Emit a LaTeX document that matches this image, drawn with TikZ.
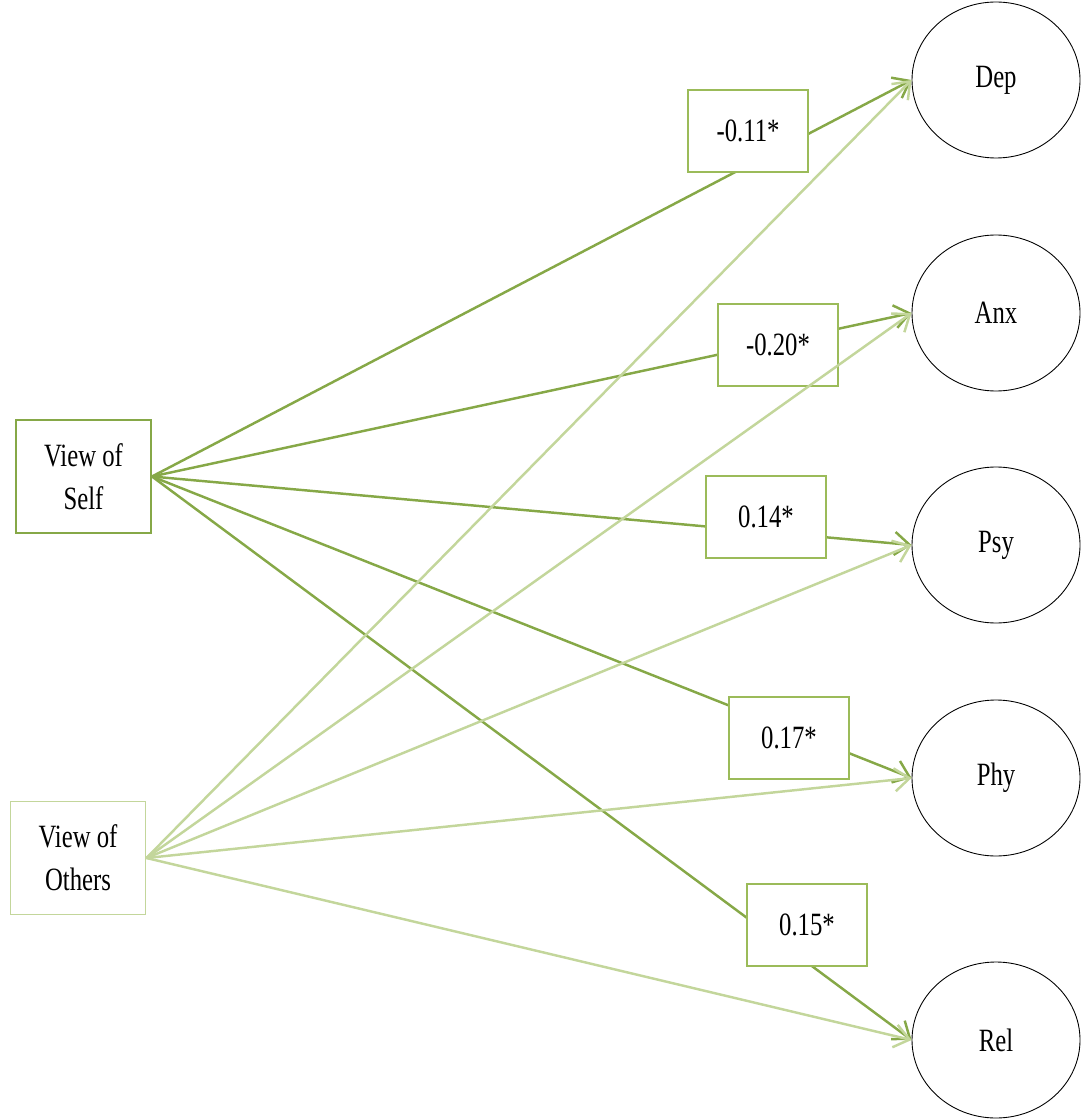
\documentclass[tikz,border=0pt]{standalone}
\usepackage{graphicx}
\usepackage{fontspec}
\setmainfont{Liberation Serif}
\usetikzlibrary{shapes.geometric,arrows.meta,positioning}
\definecolor{selfgreen}{HTML}{86A847}
\definecolor{boxgreen}{HTML}{9BBB59}
\definecolor{othergreen}{HTML}{C3D69B}
\newcommand{\tall}[1]{\scalebox{0.76}[1]{#1}}

\begin{document}
\begin{tikzpicture}[
  every node/.style={font=\fontsize{18.5}{24.5}\selectfont},
  srcbox/.style={draw, line width=1.1pt, minimum width=2.7cm, minimum height=2.26cm, align=center},
  outcome/.style={draw, ellipse, line width=0.5pt, minimum width=3.36cm, minimum height=3.12cm},
  coef/.style={draw=boxgreen, fill=white, line width=1.1pt, minimum width=2.4cm, minimum height=1.64cm},
  selfpath/.style={draw=selfgreen, line width=1.4pt, ->},
  otherpath/.style={draw=othergreen, line width=1.4pt, ->},
  >={Straight Barb[length=3mm,width=4.6mm]}
]
  \useasboundingbox (0,0) rectangle (21.62,-22.38);

  % predictors
  \node[srcbox, draw=selfgreen] (self) at (1.67,-9.53) {\tall{View of}\\\tall{Self}};
  \node[srcbox, draw=othergreen] (others) at (1.56,-17.16) {\tall{View of}\\\tall{Others}};

  % outcomes
  \node[outcome] (dep) at (19.92,-1.6) {\tall{Dep}};
  \node[outcome] (anx) at (19.92,-6.26) {\tall{Anx}};
  \node[outcome] (psy) at (19.92,-10.9) {\tall{Psy}};
  \node[outcome] (phy) at (19.92,-15.56) {\tall{Phy}};
  \node[outcome] (rel) at (19.92,-20.8) {\tall{Rel}};

  % paths from self, under the coefficients
  \foreach \t in {dep,anx,psy,phy,rel}
    \draw[selfpath] (self.east) -- (\t.west);

  % coefficients
  \node[coef] (cdep) at (14.96,-2.62) {\tall{-0.11*}};
  \node[coef] (canx) at (15.56,-6.9) {\tall{-0.20*}};
  \node[coef] (cpsy) at (15.32,-10.34) {\tall{0.14*}};
  \node[coef] (cphy) at (15.78,-14.76) {\tall{0.17*}};
  \node[coef] (crel) at (16.14,-18.5) {\tall{0.15*}};

  % paths from others
  \foreach \t in {dep,anx,psy,phy,rel}
    \draw[otherpath] (others.east) -- (\t.west);
\end{tikzpicture}
\end{document}
